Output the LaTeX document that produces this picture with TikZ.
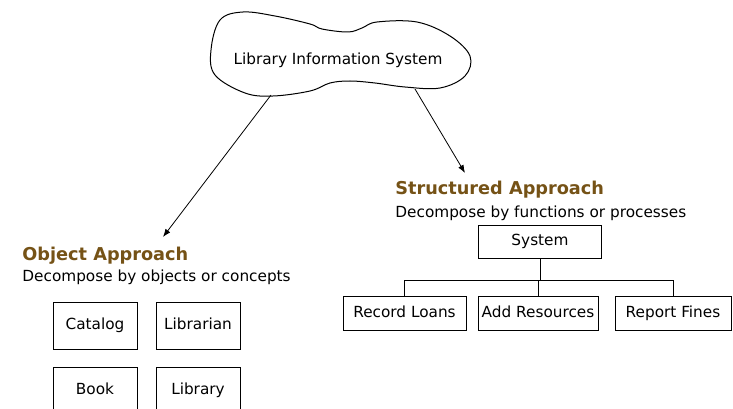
\documentclass[tikz,border=0pt]{standalone}
\usepackage{fontspec}
\setmainfont{DejaVu Sans}
\usepackage{tikz}
\usetikzlibrary{arrows.meta}
\definecolor{headbrown}{RGB}{117,82,22}

\tikzset{
  body/.style={font=\fontsize{15.3}{18}\selectfont, inner sep=0pt},
  head/.style={font=\fontsize{17.7}{20}\selectfont\bfseries, text=headbrown, inner sep=0pt},
  boxed/.style={draw, body, text height=11pt, text depth=3pt},
  obox/.style={boxed, minimum width=84pt, minimum height=47pt},
  fbox/.style={boxed, minimum height=34pt},
  pointer/.style={-{Latex[length=8pt,width=6pt]}}
}

\begin{document}
\begin{tikzpicture}[x=1pt,y=-1pt,line width=0.8pt]
\useasboundingbox (0,0) rectangle (733,409);
\clip (0,0) rectangle (733,409);

% the cloud
\draw[line width=1pt] plot[smooth cycle, tension=0.6] coordinates {(220,20) (243,12) (275,16) (310,24) (322,29) (348,32) (362,28) (377,22) (417,22) (450,36) (470,56) (465,76) (440,88) (405,87) (375,83) (350,81) (330,83) (310,91) (273,96) (245,93) (215,75) (211,50)};
\node[body] (lis) at (338,60) {Library Information System};
\coordinate (cloudL) at (271,95);
\coordinate (cloudR) at (415,89);

% object approach
\node[head,anchor=west] (oa) at (22,256) {Object Approach};
\node[body,anchor=west] (oadesc) at (22,277) {Decompose by objects or concepts};
\coordinate (oatip) at (163,237);
\draw[pointer] (cloudL) -- (oatip);

\node[obox] (cat) at (95,325.5) {Catalog};
\node[obox] (lib) at (198,325.5) {Librarian};
\node[obox] (book) at (95,390.5) {Book};
\node[obox] (libr) at (198,390.5) {Library};

% structured approach
\node[head,anchor=west] (sa) at (395,190) {Structured Approach};
\node[body,anchor=west] (sadesc) at (395,213) {Decompose by functions or processes};
\coordinate (satip) at (465,173);
\draw[pointer] (cloudR) -- (satip);

\node[fbox,minimum width=123pt,minimum height=33pt] (sys) at (540,241.5) {System};
\node[fbox,minimum width=123pt] (rl) at (404.5,313) {Record Loans};
\node[fbox,minimum width=120pt] (ar) at (538,313) {Add Resources};
\node[fbox,minimum width=116pt] (rf) at (673,313) {Report Fines};

\coordinate (bus) at (540,280);
\draw (sys.south) -- (bus);
\foreach \b in {rl,ar,rf} % edit here for the branches
\draw (bus) -| (\b.north);
\end{tikzpicture}
\end{document}
